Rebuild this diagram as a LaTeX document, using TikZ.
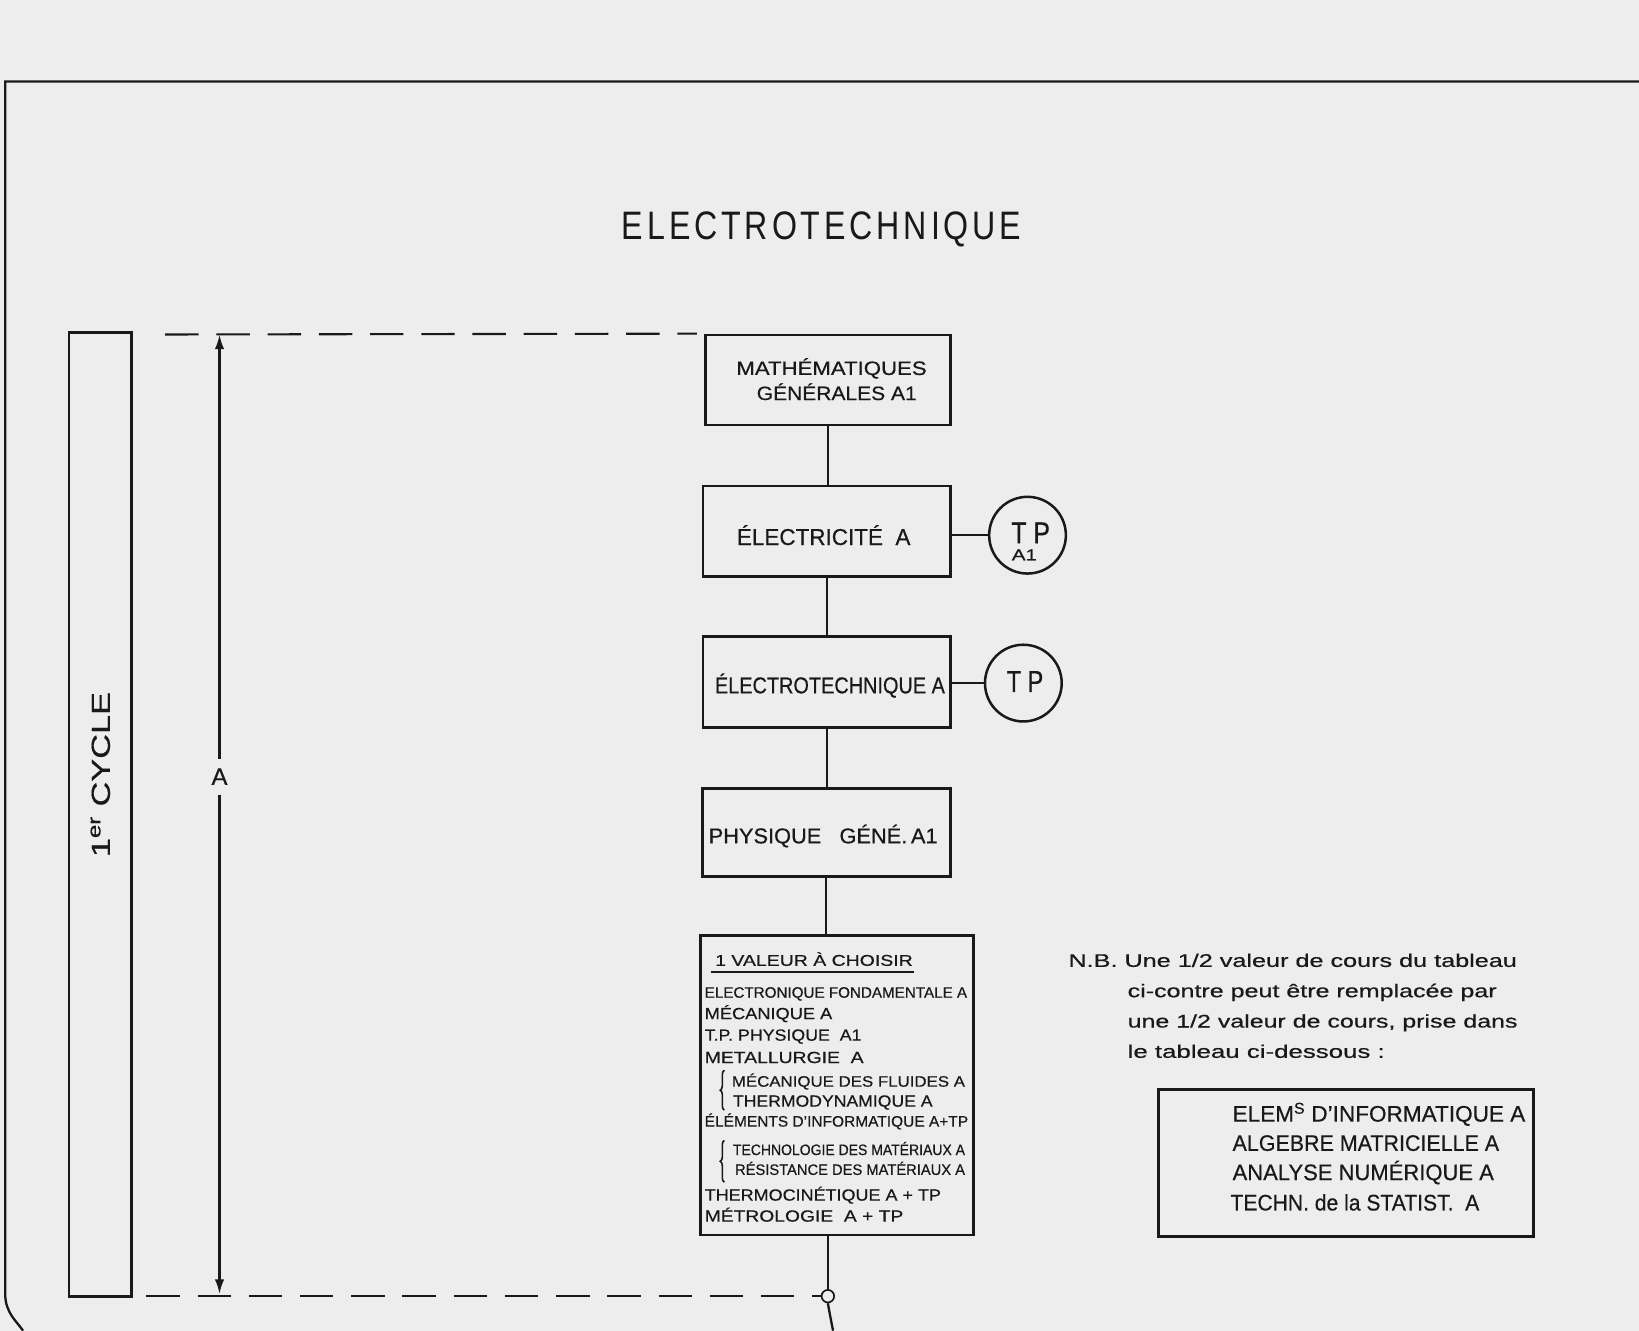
\documentclass[tikz,border=0pt]{standalone}
\usepackage{fontspec}
\setmainfont{Liberation Sans}[FakeBold=0.5]
\newfontfamily\ttlfont{Liberation Sans}[LetterSpace=12]
\usetikzlibrary{arrows.meta,decorations.pathreplacing}
\definecolor{paper}{RGB}{237,237,237}
\definecolor{ink}{RGB}{25,25,25}
\newcommand\fitw[3]{{\fontsize{#1}{#1}\selectfont\resizebox{#2pt}{\height}{#3}}}
\begin{document}
\begin{tikzpicture}[x=1pt,y=-1pt,
  ln/.style={draw=ink,line width=2.2pt},
  box/.style={draw=ink,line width=2.6pt,rectangle,inner sep=0pt},
  txt/.style={inner sep=0pt,text=ink,anchor=base west},
  ctxt/.style={inner sep=0pt,text=ink,anchor=base},
  dsh/.style={draw=ink,line width=2pt,dash pattern=on 32pt off 17pt},
  tpc/.style={circle,draw=ink,line width=2.4pt,minimum size=73.4pt,inner sep=0pt},
  brc/.style={draw=ink,line width=1.5pt,decorate,decoration={brace,amplitude=4pt}},
  arr/.style={ln,-{Latex[length=14pt,width=9pt]}}
]
\fill[paper] (0,0) rectangle (1568,1273);
\useasboundingbox (0,0) rectangle (1568,1273);

% page border
\draw[ln] (1568,78) -- (5,78) -- (5,1238) .. controls (5,1256) and (16,1264) .. (22,1273);

% 1er cycle
\node[box,minimum width=60pt,minimum height=922pt] (cyc) at (96,779) {};
\node[inner sep=0pt,text=ink,rotate=90] (cyct) at (96,741) {\fitw{25}{158}{1\textsuperscript{er} CYCLE}};

% title
\node[ctxt] (title) at (786,229) {\ttlfont\fitw{38}{382}{ELECTROTECHNIQUE}};

% dimension A
\coordinate (dtop) at (210,320);
\coordinate (dbot) at (210,1238);
\node[inner sep=9pt,text=ink] (dimA) at (210,743) {\fontsize{23}{23}\selectfont A};
\draw[arr] (dimA) -- (dtop);
\draw[arr] (dimA) -- (dbot);

% boxes
\node[box,minimum width=234pt,minimum height=86pt] (math) at (792,363.5) {};
\node[ctxt] (mt1) at (795.5,358.7) {\fitw{18.5}{182}{MATHÉMATIQUES}};
\node[ctxt] (mt2) at (800.5,382.7) {\fitw{18.5}{153}{GÉNÉRALES A1}};

\node[box,minimum width=237pt,minimum height=86.7pt] (elec) at (791,508.3) {};
\node[ctxt] (elt) at (788,521.4) {\fitw{22}{166}{ÉLECTRICITÉ\ \ A}};

\node[box,minimum width=237pt,minimum height=87pt] (etech) at (791,652.4) {};
\node[ctxt] (ett) at (794,663.3) {\fitw{22}{220}{ÉLECTROTECHNIQUE A}};

\node[box,minimum width=237pt,minimum height=84.7pt] (phys) at (790.5,796.4) {};
\node[ctxt] (pht) at (787.5,806.8) {\fitw{20.5}{219}{PHYSIQUE\ \ \ GÉNÉ.\,A1}};

\node[box,minimum width=261pt,minimum height=286.5pt] (val) at (800.5,1038.3) {};

% TP circles
\node[tpc] (tp1) at (983,512) {};
\node[ctxt] (tp1a) at (986,519.8) {\fitw{29}{37}{T P}};
\node[ctxt] (tp1b) at (980,536) {\fitw{15}{24}{A1}};
\node[tpc] (tp2) at (979,653.5) {};
\node[ctxt] (tp2a) at (980.6,662) {\fitw{29}{35}{T P}};

% connectors
\draw[ln] (math.south) -- (math.south |- elec.north);
\draw[ln] (elec.south) -- (elec.south |- etech.north);
\draw[ln] (etech.south) -- (etech.south |- phys.north);
\draw[ln] (phys.south) -- (phys.south |- val.north);
\draw[ln] (tp1.west) -- (tp1.west -| elec.east);
\draw[ln] (tp2.west) -- (tp2.west -| etech.east);
\node[circle,draw=ink,line width=1.6pt,minimum size=12pt,inner sep=0pt,fill=paper] (jn) at (792,1240) {};
\draw[ln] (jn.north) -- (jn.north |- val.south);
\coordinate (tail) at (797,1273);
\draw[ln] (jn.south) .. controls (794,1258) .. (tail);

% dashed limits
\coordinate (dl1) at (158,320);
\draw[dsh] (dl1) -- ([shift={(-7,0)}]math.north west);
\coordinate (dl2) at (140,1240);
\draw[dsh] (dl2) -- (jn.west);

% valeur box content
\node[txt] (v0) at (684,924) {\fitw{15}{189}{1 VALEUR À CHOISIR}};
\draw[draw=ink,line width=1.6pt] ([shift={(-4,5.6)}]v0.base west) -- ([shift={(1,5.6)}]v0.base east);
\node[txt] (v1) at (674,954.5) {\fitw{14.5}{251}{ELECTRONIQUE FONDAMENTALE A}};
\node[txt] (v2) at (674,975) {\fitw{15.5}{122}{MÉCANIQUE A}};
\node[txt] (v3) at (674,995.6) {\fitw{15.5}{150}{T.P. PHYSIQUE\ \ A1}};
\node[txt] (v4) at (674,1017) {\fitw{15.5}{152}{METALLURGIE\ \ A}};
\node[txt] (v5) at (700,1039.6) {\fitw{14.5}{223}{MÉCANIQUE DES FLUIDES A}};
\node[txt] (v6) at (701,1058.7) {\fitw{15.5}{191}{THERMODYNAMIQUE A}};
\node[txt] (v7) at (674,1077.8) {\fitw{14.5}{252}{ÉLÉMENTS D’INFORMATIQUE A+TP}};
\node[txt] (v8) at (701,1105) {\fitw{14.5}{222}{TECHNOLOGIE DES MATÉRIAUX A}};
\node[txt] (v9) at (703,1124) {\fitw{14.5}{220}{RÉSISTANCE DES MATÉRIAUX A}};
\node[txt] (v10) at (674,1148.6) {\fitw{15.5}{226}{THERMOCINÉTIQUE A + TP}};
\node[txt] (v11) at (674,1168.7) {\fitw{15.5}{190}{MÉTROLOGIE\ \ A + TP}};
\draw[brc] (693,1062) -- (693,1024);
\draw[brc] (693,1131) -- (693,1091);

% N.B.
\node[txt] (n1) at (1022,925) {\fitw{17.5}{429}{N.B. Une 1/2 valeur de cours du tableau}};
\node[txt] (n2) at (1078.6,954) {\fitw{17.5}{353}{ci-contre peut être remplacée par}};
\node[txt] (n3) at (1078.6,983) {\fitw{17.5}{373}{une 1/2 valeur de cours, prise dans}};
\node[txt] (n4) at (1078.6,1012) {\fitw{17.5}{246}{le tableau ci-dessous :}};

% right box
\node[box,minimum width=359pt,minimum height=141pt] (rbox) at (1287.5,1112.5) {};
\node[txt] (r1) at (1179,1073) {\fitw{21.5}{280}{ELEM\textsuperscript{S} D’INFORMATIQUE A}};
\node[txt] (r2) at (1179,1101) {\fitw{21.5}{255}{ALGEBRE MATRICIELLE A}};
\node[txt] (r3) at (1179,1129) {\fitw{21.5}{250}{ANALYSE NUMÉRIQUE A}};
\node[txt] (r4) at (1177,1158) {\fitw{21.5}{238}{TECHN. de la STATIST.\ \ A}};
\end{tikzpicture}
\end{document}
